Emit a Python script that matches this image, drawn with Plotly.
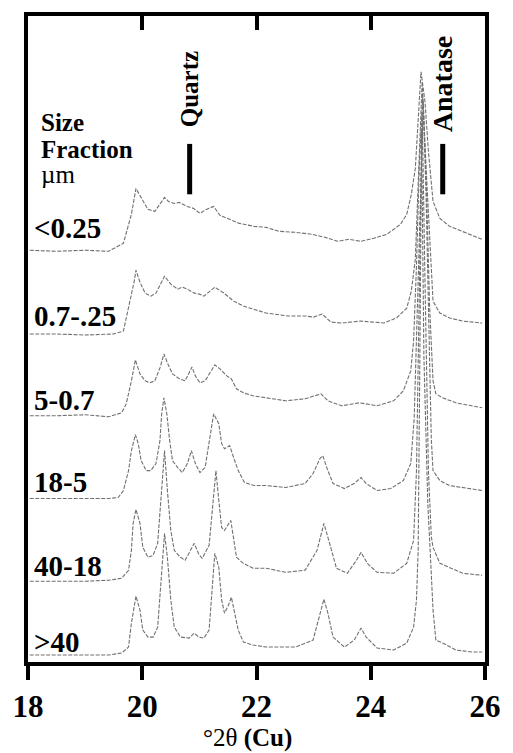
import plotly.graph_objects as go

# ---------------- data (2theta in degrees, intensity in arbitrary units) ----------------
fractions = ["<0.25", "0.7-.25", "5-0.7", "18-5", "40-18", ">40"]
offsets = [413, 329, 247, 164, 81, 7]

x_lt025 = [18.03, 18.5, 19.0, 19.41, 19.67, 19.81, 19.89, 20.10, 20.22, 20.39, 20.46, 20.56, 20.65, 20.79, 20.90,
           21.01, 21.12, 21.25, 21.36, 21.48, 21.70, 21.96, 22.17, 22.39, 22.68, 22.97, 23.20, 23.42, 23.62, 23.83,
           24.05, 24.28, 24.52, 24.63, 24.71, 24.78, 24.83, 24.88, 24.95, 25.01, 25.09, 25.21, 25.38, 25.61, 25.83, 25.95]
y_lt025 = [0, -1, 0, -1, 7, 36, 62, 41, 39, 53, 49, 47, 48, 44, 42,
           37, 41, 44, 35, 32, 27, 24, 23, 19, 18, 16, 13, 9, 11, 9,
           12, 16, 26, 36, 56, 82, 132, 179, 149, 99, 49, 32, 24, 19, 14, 11]

x_07_025 = [18.03, 18.5, 19.0, 19.5, 19.67, 19.72, 19.76, 19.81, 19.86, 19.89, 19.96, 20.05, 20.15, 20.24, 20.32,
            20.39, 20.50, 20.62, 20.70, 20.79, 20.91, 21.00, 21.08, 21.18, 21.27, 21.43, 21.60, 21.77, 21.96, 22.17,
            22.56, 22.85, 23.00, 23.15, 23.30, 23.49, 23.83, 24.05, 24.23, 24.45, 24.63, 24.71, 24.78, 24.83, 24.90,
            24.97, 25.04, 25.09, 25.21, 25.38, 25.61, 25.95]
y_07_025 = [0, 0, -1, 0, 3, 16, 28, 40, 53, 64, 52, 41, 38, 41, 50,
            58, 50, 45, 47, 45, 41, 40, 38, 43, 47, 41, 33, 28, 25, 21,
            18, 18, 17, 20, 12, 11, 13, 12, 11, 16, 26, 43, 75, 150, 253,
            165, 80, 33, 21, 16, 13, 11]

x_5_07 = [18.03, 18.5, 19.0, 19.41, 19.64, 19.72, 19.81, 19.88, 19.96, 20.05, 20.13, 20.22, 20.31, 20.38, 20.44,
          20.53, 20.65, 20.75, 20.82, 20.87, 20.93, 21.01, 21.10, 21.18, 21.27, 21.36, 21.48, 21.56, 21.65, 21.77,
          21.94, 22.17, 22.51, 22.85, 23.13, 23.25, 23.49, 23.80, 24.11, 24.40, 24.57, 24.70, 24.75, 24.80, 24.85,
          24.91, 24.97, 25.03, 25.09, 25.14, 25.26, 25.49, 25.78, 25.95]
y_5_07 = [0, 0, 1, -1, 3, 12, 35, 56, 42, 35, 33, 35, 48, 62, 53,
          42, 37, 35, 43, 49, 40, 33, 35, 43, 51, 47, 40, 37, 27, 23,
          20, 18, 15, 17, 22, 15, 10, 13, 10, 15, 25, 45, 75, 150, 250,
          320, 240, 110, 35, 22, 18, 13, 10, 8]

x_18_5 = [18.03, 18.5, 19.0, 19.41, 19.58, 19.67, 19.76, 19.81, 19.88, 19.93, 19.98, 20.07, 20.15, 20.24, 20.31,
          20.34, 20.38, 20.43, 20.48, 20.53, 20.62, 20.70, 20.79, 20.86, 20.93, 21.01, 21.10, 21.18, 21.25, 21.34,
          21.39, 21.44, 21.53, 21.60, 21.68, 21.79, 21.96, 22.17, 22.51, 22.85, 22.99, 23.11, 23.16, 23.23, 23.34,
          23.54, 23.71, 23.83, 23.92, 24.11, 24.35, 24.57, 24.70, 24.76, 24.82, 24.88, 24.92, 24.97, 25.02, 25.06,
          25.09, 25.21, 25.38, 25.73, 25.95]
y_18_5 = [0, 0, 0, 0, 1, 8, 28, 48, 64, 55, 38, 28, 28, 35, 58,
          85, 101, 85, 58, 38, 31, 26, 35, 48, 35, 26, 31, 58, 85, 75,
          55, 50, 53, 41, 28, 16, 13, 13, 11, 15, 25, 40, 43, 31, 15,
          10, 15, 21, 15, 8, 10, 18, 35, 80, 200, 330, 398, 300, 150, 60,
          28, 18, 13, 10, 8]

x_40_18 = [18.03, 18.5, 19.0, 19.41, 19.64, 19.76, 19.81, 19.84, 19.89, 19.96, 20.01, 20.10, 20.19, 20.27, 20.32,
           20.36, 20.39, 20.44, 20.50, 20.56, 20.67, 20.75, 20.91, 20.99, 21.05, 21.17, 21.22, 21.29, 21.34, 21.39,
           21.44, 21.55, 21.65, 21.77, 21.94, 22.17, 22.51, 22.85, 23.06, 23.18, 23.28, 23.40, 23.59, 23.75, 23.83,
           23.94, 24.11, 24.40, 24.63, 24.75, 24.80, 24.85, 24.90, 24.95, 25.01, 25.06, 25.09, 25.21, 25.38, 25.61,
           25.95]
y_40_18 = [0, 0, 0, 1, 3, 11, 31, 58, 72, 58, 34, 24, 26, 38, 74,
           101, 131, 91, 51, 31, 24, 21, 38, 27, 23, 36, 71, 111, 81, 54,
           51, 61, 24, 18, 13, 13, 9, 11, 31, 58, 38, 13, 8, 21, 29,
           18, 9, 8, 18, 41, 110, 280, 471, 300, 110, 45, 34, 18, 14, 8,
           6]

x_gt40 = [18.03, 18.5, 19.0, 19.41, 19.64, 19.76, 19.81, 19.86, 19.89, 19.96, 20.01, 20.10, 20.19, 20.27, 20.32,
          20.36, 20.39, 20.44, 20.50, 20.56, 20.67, 20.82, 20.91, 20.99, 21.08, 21.17, 21.22, 21.27, 21.34, 21.39,
          21.44, 21.51, 21.56, 21.61, 21.68, 21.77, 21.94, 22.17, 22.68, 22.99, 23.08, 23.18, 23.25, 23.34, 23.54,
          23.71, 23.83, 23.92, 24.11, 24.40, 24.63, 24.75, 24.80, 24.83, 24.86, 24.89, 24.93, 25.00, 25.04, 25.09,
          25.14, 25.26, 25.49, 25.78, 25.95]
y_gt40 = [0, 0, 0, 0, 2, 8, 32, 52, 59, 45, 25, 18, 18, 28, 65,
          98, 122, 98, 55, 28, 18, 17, 22, 18, 17, 25, 65, 102, 88, 55,
          42, 50, 58, 45, 25, 13, 10, 8, 8, 15, 35, 56, 42, 18, 8,
          15, 27, 18, 7, 5, 12, 28, 55, 105, 300, 525, 300, 150, 105, 45,
          15, 12, 5, 3, 3]

xs = [x_lt025, x_07_025, x_5_07, x_18_5, x_40_18, x_gt40]
ys = [y_lt025, y_07_025, y_5_07, y_18_5, y_40_18, y_gt40]

reference_lines = ["Quartz", "Anatase"]
reference_2theta = [20.83, 25.26]

x_ticks = [18, 20, 22, 24, 26]
x_tick_text = ["18", "20", "22", "24", "26"]
top_ticks = [20, 22, 24]

# ---------------- figure ----------------
FONT = "'Liberation Serif', 'Times New Roman', serif"
LINE_COLOR = "#707070"

fig = go.Figure()
for xv, yv, off, name in zip(xs, ys, offsets, fractions):
    fig.add_trace(go.Scatter(
        x=xv, y=[v + off for v in yv], mode="lines", name=name,
        line=dict(color=LINE_COLOR, width=1.1, dash="4px,1.5px"),
        hoverinfo="skip", showlegend=False))

# invisible trace to activate the top axis (inward ticks)
fig.add_trace(go.Scatter(x=[18, 26], y=[0, 0], xaxis="x2", mode="lines",
                         line=dict(width=0, color="rgba(0,0,0,0)"), hoverinfo="skip", showlegend=False))

label_rise = [22, 18, 16, 17, 15, 13]
annotations = []
for name, off, rise in zip(fractions, offsets, label_rise):
    annotations.append(dict(x=18.07, y=off + rise, xref="x", yref="y",
                            text="<b>" + name.replace("<", "&lt;").replace(">", "&gt;") + "</b>",
                            showarrow=False, xanchor="left", yanchor="middle",
                            font=dict(family=FONT, size=29, color="black")))

# Size fraction header
for txt, yp in [("<b>Size</b>", 0.835), ("<b>Fraction</b>", 0.793), ("µm", 0.755)]:
    annotations.append(dict(x=0.024, y=yp, xref="paper", yref="paper", text=txt, showarrow=False,
                            xanchor="left", yanchor="middle", font=dict(family=FONT, size=25, color="black")))

# reference line labels (rotated) and bars
label_y = [0.886, 0.894]
label_size = [25, 28]
shapes = []
for name, pos, ly, ls in zip(reference_lines, reference_2theta, label_y, label_size):
    annotations.append(dict(x=pos, y=ly, xref="x", yref="paper", text="<b>" + name + "</b>", textangle=-90,
                            showarrow=False, xanchor="center", yanchor="middle",
                            font=dict(family=FONT, size=ls, color="black")))
    shapes.append(dict(type="line", xref="x", yref="paper", x0=pos, x1=pos, y0=0.724, y1=0.802,
                       line=dict(color="black", width=5)))

# x title
annotations.append(dict(x=0.48, y=-0.118, xref="paper", yref="paper", text="°2θ <b>(Cu)</b>", showarrow=False,
                        xanchor="center", yanchor="middle", font=dict(family=FONT, size=25, color="black")))

fig.update_layout(
    width=513, height=753,
    margin=dict(l=28, r=20, t=14, b=91),
    paper_bgcolor="white", plot_bgcolor="white",
    showlegend=False,
    xaxis=dict(range=[18, 26], tickvals=x_ticks, ticktext=["<b>" + t + "</b>" for t in x_tick_text],
               ticks="outside", ticklen=14,
               tickwidth=4, tickcolor="black", showline=True, linewidth=4, linecolor="black", mirror=True,
               showgrid=False, zeroline=False,
               tickfont=dict(family=FONT, size=31, color="black")),
    xaxis2=dict(range=[18, 26], overlaying="x", side="top", tickvals=top_ticks, ticks="inside", ticklen=14,
                tickwidth=4, tickcolor="black", showticklabels=False, showline=False, showgrid=False,
                zeroline=False),
    yaxis=dict(range=[0, 648], showticklabels=False, ticks="", showline=True, linewidth=4, linecolor="black",
               mirror=True, showgrid=False, zeroline=False),
    annotations=annotations,
    shapes=shapes,
)

fig.write_html("out.html")
